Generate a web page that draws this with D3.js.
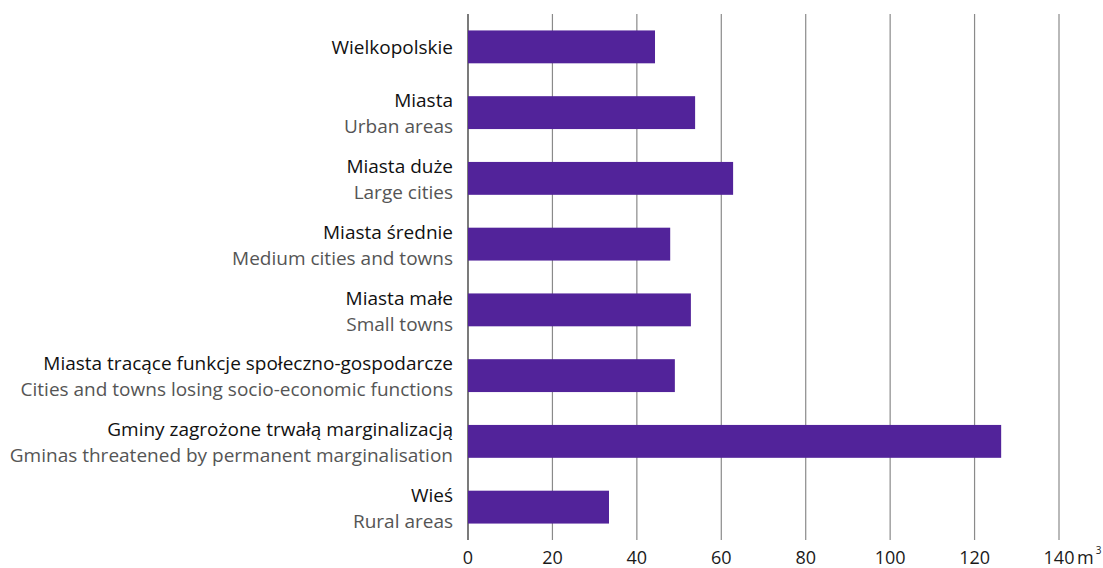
<!DOCTYPE html>
<html><head><meta charset="utf-8">
<script src="https://cdn.jsdelivr.net/npm/d3@7"></script>
<style>body{margin:0;background:#fff}svg{display:block}</style>
</head><body>
<svg id="c" width="1103" height="568"></svg>
<script>
const categoriesPL = ["Wielkopolskie","Miasta","Miasta duże","Miasta średnie","Miasta małe","Miasta tracące funkcje społeczno-gospodarcze","Gminy zagrożone trwałą marginalizacją","Wieś"];
const categoriesEN = ["","Urban areas","Large cities","Medium cities and towns","Small towns","Cities and towns losing socio-economic functions","Gminas threatened by permanent marginalisation","Rural areas"];
const values = [44.3, 53.8, 62.8, 47.9, 52.8, 49.0, 126.3, 33.4];
const ticks = [0,20,40,60,80,100,120,140];
const unit = "m";

const svg = d3.select("#c");
const font = "'Open Sans', sans-serif";
const x = d3.scaleLinear().domain([0,140]).range([468,1059]);
const y = d3.scaleBand().domain(d3.range(values.length)).range([14,540]).paddingInner(0.5).paddingOuter(0.25);

// grid
svg.append("g").selectAll("line").data(ticks).join("line")
  .attr("x1",d=>x(d)).attr("x2",d=>x(d)).attr("y1",14).attr("y2",540)
  .attr("stroke",d=>d===0?"#333":"#8a8a8a").attr("stroke-width",d=>d===0?1.3:1.2);

// bars
svg.append("g").selectAll("rect").data(values).join("rect")
  .attr("x",x(0)).attr("y",(d,i)=>y(i)).attr("width",d=>x(d)-x(0)).attr("height",y.bandwidth())
  .attr("fill","#52239a");

// tick labels
const ax = svg.append("g").attr("font-family",font).attr("font-size",18).attr("fill","#1a1a1a");
ax.selectAll("text").data(ticks).join("text")
  .attr("x",d=>x(d)).attr("y",564).attr("text-anchor","middle").text(d=>d);
const u = ax.append("text").attr("x",x(140)+18).attr("y",564).attr("text-anchor","start");
u.append("tspan").text(unit);
u.append("tspan").attr("font-size",10).attr("dx",2).attr("dy",-10).text("3");

// category labels
const lg = svg.append("g").attr("font-family",font).attr("font-size",19).attr("text-anchor","end");
categoriesPL.forEach((p,i)=>{
  const cy = y(i)+y.bandwidth()/2;
  const en = categoriesEN[i];
  if(!en){
    lg.append("text").attr("x",453).attr("y",cy).attr("dy","0.35em").attr("fill","#111").text(p);
  } else {
    lg.append("text").attr("x",453).attr("y",cy-12).attr("dy","0.35em").attr("fill","#111").text(p);
    lg.append("text").attr("x",453).attr("y",cy+14).attr("dy","0.35em").attr("fill","#555").text(en);
  }
});
</script>
</body></html>
